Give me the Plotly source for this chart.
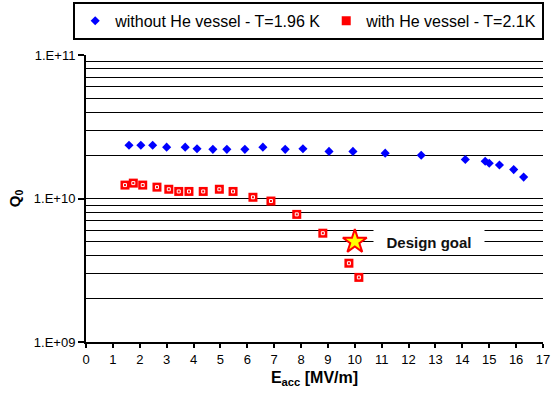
import plotly.graph_objects as go
import math

# ---- data ----
blue_E = [1.60, 2.04, 2.48, 3.00, 3.69, 4.13, 4.72, 5.24, 5.91, 6.58, 7.41, 8.07,
          9.04, 9.93, 11.13, 12.47, 14.11, 14.85, 15.00, 15.38, 15.91, 16.28]
blue_Q = [2.35e10, 2.35e10, 2.35e10, 2.28e10, 2.28e10, 2.22e10, 2.20e10, 2.20e10,
          2.20e10, 2.28e10, 2.20e10, 2.22e10, 2.13e10, 2.13e10, 2.07e10, 2.00e10,
          1.87e10, 1.82e10, 1.76e10, 1.71e10, 1.59e10, 1.41e10]

red_E = [1.45, 1.76, 2.11, 2.64, 3.08, 3.45, 3.83, 4.36, 4.96, 5.47, 6.21, 6.88,
         7.84, 8.81, 9.78, 10.15]
red_Q = [1.24e10, 1.28e10, 1.24e10, 1.20e10, 1.16e10, 1.12e10, 1.12e10, 1.12e10,
         1.16e10, 1.12e10, 1.02e10, 9.6e9, 7.75e9, 5.73e9, 3.54e9, 2.82e9]

goal_E = [10.0]
goal_Q = [5.0e9]

blue_name = "without He vessel - T=1.96 K"
red_name = "with He vessel - T=2.1K"

x_ticks = list(range(0, 18))
y_major = [1e9, 1e10, 1e11]
y_major_text = ["1.E+09", "1.E+10", "1.E+11"]
y_minor = [m * 10 ** p for p in (9, 10) for m in range(2, 10)]

FONT = "Arial, Liberation Sans, sans-serif"

fig = go.Figure()
fig.add_trace(go.Scatter(x=blue_E, y=blue_Q, mode="markers", name=blue_name,
                         marker=dict(symbol="diamond", size=7, color="#0000FF",
                                     line=dict(width=0))))
fig.add_trace(go.Scatter(x=red_E, y=red_Q, mode="markers", name=red_name,
                         marker=dict(symbol="square", size=9, color="#FF0000",
                                     line=dict(width=0))))
fig.add_trace(go.Scatter(x=red_E, y=red_Q, mode="markers", showlegend=False,
                         hoverinfo="skip",
                         marker=dict(symbol="square-open", size=3, color="white",
                                     line=dict(width=1, color="white"))))
fig.add_trace(go.Scatter(x=goal_E, y=goal_Q, mode="markers", showlegend=False,
                         marker=dict(symbol="star", size=18, color="#FFFF00",
                                     line=dict(width=2, color="#FF0000"))))

fig.add_annotation(x=12.77, y=math.log10(goal_Q[0]), xref="x", yref="y",
                   text="<b>Design goal</b>", showarrow=False,
                   font=dict(family=FONT, size=15, color="#111111"),
                   bgcolor="white", width=108, height=22)

fig.update_layout(
    width=551, height=394,
    margin=dict(l=86, r=8, t=55, b=52, autoexpand=False),
    paper_bgcolor="white", plot_bgcolor="white",
    font=dict(family=FONT, color="black", size=13),
    showlegend=True,
    legend=dict(orientation="h", x=-0.028, y=1.185, xanchor="left", yanchor="top",
                bordercolor="black", borderwidth=2, bgcolor="white",
                font=dict(family=FONT, size=16, color="black"),
                itemwidth=30, tracegroupgap=0),
    xaxis=dict(range=[0, 17], tickvals=x_ticks, ticktext=[str(v) for v in x_ticks],
               showgrid=False, zeroline=False, showline=True, linecolor="black",
               linewidth=2, ticks="outside", ticklen=4, tickwidth=2, tickcolor="black",
               tickfont=dict(family=FONT, size=13, color="black"),
               title=dict(text="<b>E<sub>acc</sub> [MV/m]</b>", standoff=6,
                          font=dict(family=FONT, size=16, color="black"))),
    yaxis=dict(type="log", range=[9, 11], tickvals=y_major, ticktext=y_major_text,
               showgrid=True, gridcolor="black", gridwidth=1,
               zeroline=False, showline=True, linecolor="black", linewidth=2,
               ticks="outside", ticklen=6, tickwidth=2, tickcolor="black",
               tickfont=dict(family=FONT, size=13, color="black"),
               minor=dict(tickvals=y_minor, showgrid=True, gridcolor="black",
                          gridwidth=1, ticks=""),
               title=dict(text="<b>Q<sub>0</sub></b>", standoff=10,
                          font=dict(family=FONT, size=15, color="black"))),
)

fig.write_html("out.html",
               config={"displayModeBar": False},
               post_script="document.body.style.margin='0';"
                           "document.body.style.overflow='hidden';")
